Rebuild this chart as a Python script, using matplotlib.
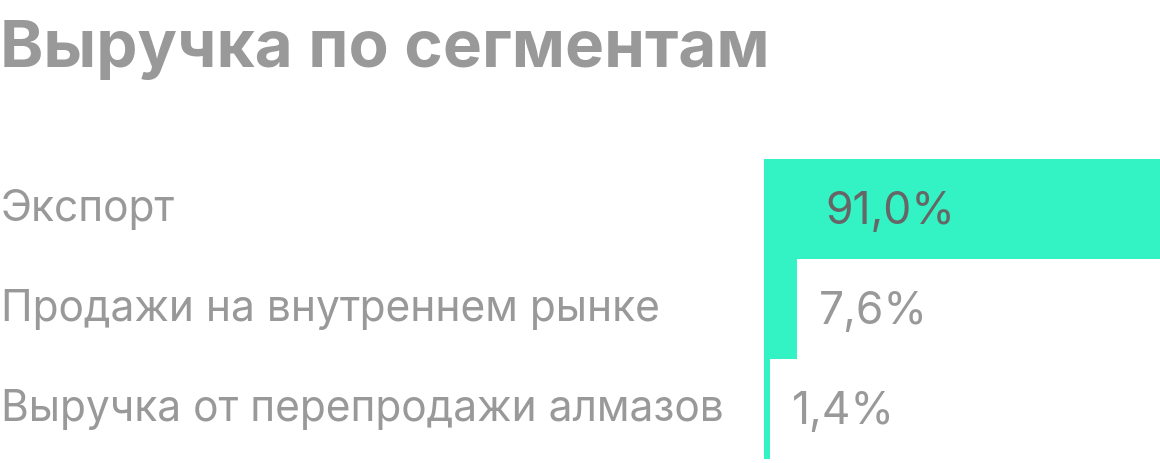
import matplotlib
matplotlib.use('Agg')
import matplotlib.pyplot as plt

categories = ['Экспорт', 'Продажи на внутреннем рынке', 'Выручка от перепродажи алмазов']
shares = [91.0, 7.6, 1.4]
share_labels = ['91,0%', '7,6%', '1,4%']

W, H = 1160, 464
fig = plt.figure(figsize=(W / 100, H / 100), dpi=100)
fig.patch.set_facecolor('white')

# title
fig.text(0 / W, 1 - 50 / H, 'Выручка по сегментам', family='Inter', weight='bold',
         fontsize=47.2, color='#999999', va='center', ha='left')

# bars area in pixels: x 764..1160, y 160..460
ax = fig.add_axes([764 / W, 4 / H, 396 / W, 300 / H])
ax.barh(range(len(shares)), shares, height=1.0, color='#33f2c4', linewidth=0)
ax.set_xlim(0, 91)
ax.set_ylim(2.5, -0.5)
ax.axis('off')

for i, (cat, v, lab) in enumerate(zip(categories, shares, share_labels)):
    yc = 1 - (210 + 100 * i) / H
    fig.text(1 / W, yc, cat, family='Inter', fontsize=30.6, color='#999999',
             va='center', ha='left')
    if v > 50:
        ax.text(14, i + 0.02, lab, family='Inter', fontsize=32, color='#666666',
                va='center', ha='left')
    else:
        ax.text(v + 5.1, i + 0.02, lab, family='Inter', fontsize=32, color='#999999',
                va='center', ha='left')

fig.savefig('out.png', dpi=100)
